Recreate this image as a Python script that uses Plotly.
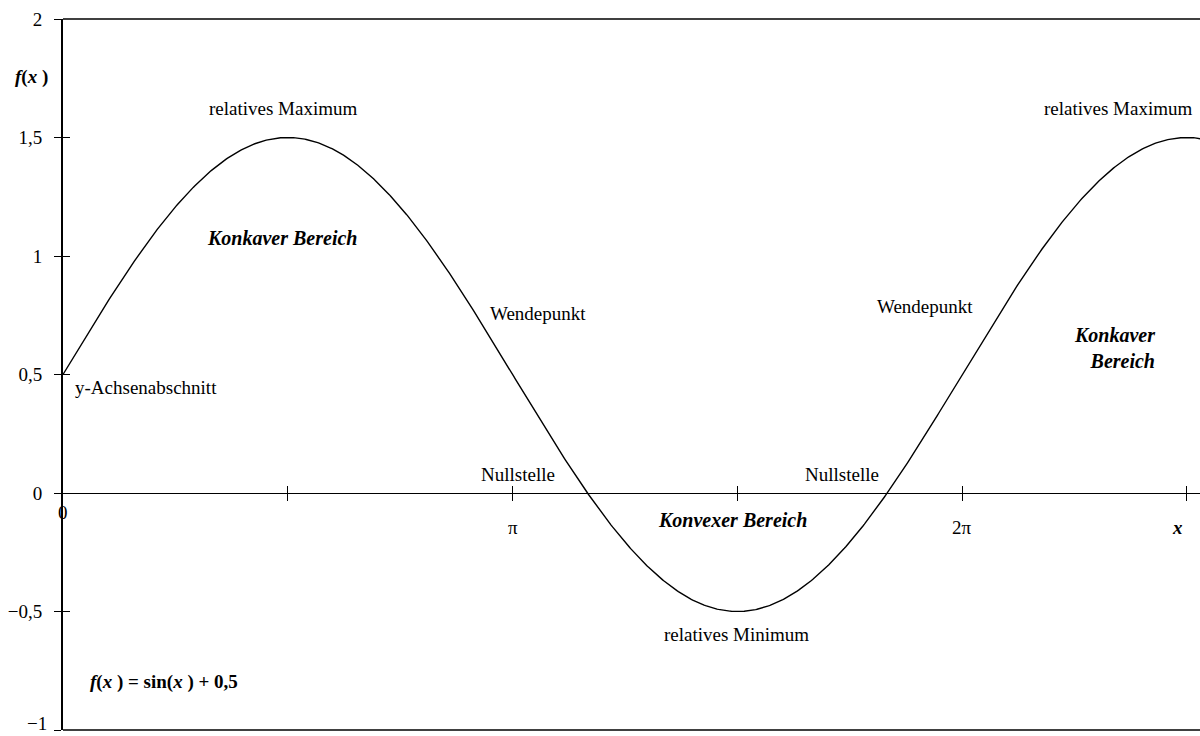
import numpy as np
import plotly.graph_objects as go

# Function f(x) = sin(x) + 0,5, sampled over the plotted interval
x_vals = np.linspace(0, 8, 801)
y_vals = np.sin(x_vals) + 0.5

# Axis ticks
x_tick_vals = [0.5 * np.pi, np.pi, 1.5 * np.pi, 2 * np.pi, 2.5 * np.pi]
y_tick_vals = [-1, -0.5, 0, 0.5, 1, 1.5, 2]
y_tick_text = ["\u22121", "\u22120,5", "0", "0,5", "1", "1,5", "2"]

# x-axis labels (position on the axis, text)
x_label_pos = [0, np.pi, 2 * np.pi, 2.5 * np.pi]
x_label_text = ["0", "\u03c0", "2\u03c0", "<b><i>x</i></b>"]

FONT = "Liberation Serif"
X_MAX = 7.945

# The lowest tick label sits on the bottom edge; it is drawn as an
# annotation anchored to the page bottom so it stays fully visible.
axis_tick_text = [""] + y_tick_text[1:]

fig = go.Figure()
fig.add_trace(go.Scatter(
    x=x_vals, y=y_vals, mode="lines",
    line=dict(color="black", width=1.4),
    hoverinfo="skip", showlegend=False,
))

fig.update_layout(
    width=1200, height=736,
    margin=dict(l=63, r=0, t=19, b=6, autoexpand=False),
    paper_bgcolor="white", plot_bgcolor="white",
    font=dict(family=FONT, size=19, color="black"),
    showlegend=False,
    xaxis=dict(
        range=[0, X_MAX], anchor="free", position=1 / 3, automargin=False,
        showgrid=False, zeroline=False,
        showline=True, linecolor="black", linewidth=1.3,
        tickvals=x_tick_vals, ticks="outside", ticklen=7,
        tickcolor="black", tickwidth=1.2, showticklabels=False,
    ),
    xaxis2=dict(
        range=[0, X_MAX], overlaying="x", anchor="free", position=1 / 3,
        side="bottom", showgrid=False, zeroline=False, showline=False,
        automargin=False,
        tickvals=x_tick_vals, ticks="inside", ticklen=7,
        tickcolor="black", tickwidth=1.2, showticklabels=False,
    ),
    yaxis=dict(
        range=[-1, 2], showgrid=False, zeroline=False, automargin=False,
        showline=True, linecolor="black", linewidth=2,
        tickvals=y_tick_vals, ticktext=axis_tick_text,
        ticks="outside", ticklen=7, tickcolor="black", tickwidth=1.2,
        ticklabelstandoff=8, ticklabeloverflow="allow",
        tickfont=dict(family=FONT, size=19),
    ),
    yaxis2=dict(
        range=[-1, 2], overlaying="y", anchor="x", side="left",
        showgrid=False, zeroline=False, showline=False, automargin=False,
        tickvals=y_tick_vals, ticks="inside", ticklen=7,
        tickcolor="black", tickwidth=1.2, showticklabels=False,
    ),
)

# Dummy trace so the secondary axes are drawn
fig.add_trace(go.Scatter(x=[None], y=[None], xaxis="x2", yaxis="y2",
                         showlegend=False, hoverinfo="skip"))

# Plot frame: top and bottom border lines
for yb in (0, 1):
    fig.add_shape(type="line", xref="paper", yref="paper", x0=0, x1=1,
                  y0=yb, y1=yb, line=dict(color="black", width=1.4))

# Lowest y tick label
fig.add_annotation(xref="paper", yref="y", x=-0.0123, y=y_tick_vals[0],
                   xanchor="right", yanchor="bottom", yshift=-6,
                   text=y_tick_text[0], showarrow=False,
                   font=dict(family=FONT, size=19))

# x-axis labels
for pos, txt in zip(x_label_pos, x_label_text):
    shift = -19 if pos == 0 else -34
    xs = -9 if pos == 2.5 * np.pi else 0
    fig.add_annotation(x=pos, y=0, text=txt, showarrow=False,
                       yshift=shift, xshift=xs,
                       font=dict(family=FONT, size=19))

# y-axis title
fig.add_annotation(xref="paper", yref="y", x=-0.0114, y=1.755, xanchor="right",
                   text="<b><i>f</i>(<i>x</i> )</b>", showarrow=False,
                   font=dict(family=FONT, size=19))

# Descriptive labels on the curve
plain = [
    ("relatives Maximum", 1.537, 1.624, "center"),
    ("relatives Maximum", 7.372, 1.624, "center"),
    ("Wendepunkt", 3.319, 0.759, "center"),
    ("Wendepunkt", 6.023, 0.785, "center"),
    ("y-Achsenabschnitt", 0.070, 0.447, "left"),
    ("Nullstelle", 3.179, 0.076, "center"),
    ("Nullstelle", 5.443, 0.076, "center"),
    ("relatives Minimum", 4.703, -0.599, "center"),
]
for txt, ax, ay, anc in plain:
    fig.add_annotation(x=ax, y=ay, text=txt, showarrow=False, xanchor=anc,
                       font=dict(family=FONT, size=19))

bold_italic = [
    ("<b><i>Konkaver Bereich</i></b>", 1.530, 1.076, "center", "center"),
    ("<b><i>Konvexer Bereich</i></b>", 4.675, -0.114, "center", "center"),
    ("<b><i>Konkaver<br>Bereich</i></b>", 7.645, 0.610, "right", "right"),
]
for txt, ax, ay, anc, al in bold_italic:
    fig.add_annotation(x=ax, y=ay, text=txt, showarrow=False, xanchor=anc,
                       align=al, font=dict(family=FONT, size=20))

# Function formula
fig.add_annotation(x=0.175, y=-0.797, xanchor="left", showarrow=False,
                   text="<b><i>f</i>(<i>x</i> ) = sin(<i>x</i> ) + 0,5</b>",
                   font=dict(family=FONT, size=19))

fig.write_html("out.html")
